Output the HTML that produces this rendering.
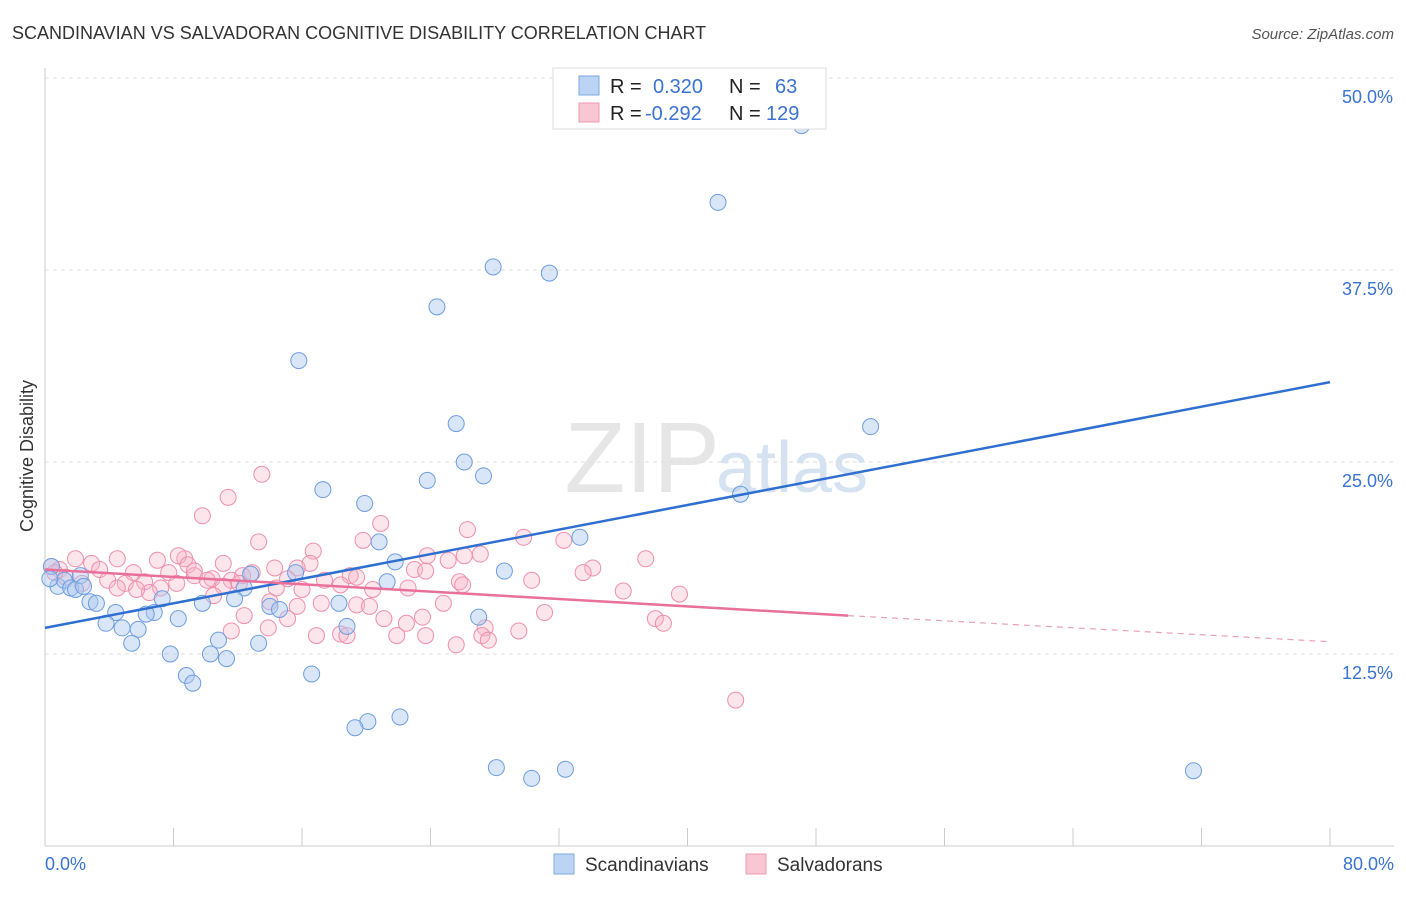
<!DOCTYPE html>
<html><head><meta charset="utf-8"><style>
body{margin:0;background:#fff;font-family:"Liberation Sans",sans-serif;}
svg text{font-family:"Liberation Sans",sans-serif;}
</style></head><body>
<svg id="chart" width="1406" height="892">
<text x="12" y="39" font-size="18" fill="#333">SCANDINAVIAN VS SALVADORAN COGNITIVE DISABILITY CORRELATION CHART</text>
<text x="1394" y="39" font-size="15" fill="#555" font-style="italic" text-anchor="end">Source: ZipAtlas.com</text>
<text x="33" y="456" font-size="18" fill="#333" text-anchor="middle" transform="rotate(-90 33 456)">Cognitive Disability</text>
<text x="720" y="492" font-size="100" fill="#e6e6e6" text-anchor="end" font-family="Liberation Serif">ZIP</text>
<text x="716" y="492" font-size="72" fill="#d5e2f2">atlas</text>
<g id="grid"></g><g id="pts"></g><g id="lines"></g>
<g>
<rect x="553" y="68" width="273" height="61" fill="#fff" stroke="#ddd"/>
<rect x="579" y="76" width="20" height="19" fill="#bcd4f4" stroke="#7da7e0"/>
<rect x="579" y="103" width="20" height="19" fill="#f9c6d4" stroke="#ef9ab2"/>
<text x="610" y="93" font-size="20" fill="#222">R =</text><text x="653" y="93" font-size="20" fill="#3a73d0">0.320</text>
<text x="729" y="93" font-size="20" fill="#222">N =</text><text x="775" y="93" font-size="20" fill="#3a73d0">63</text>
<text x="610" y="120" font-size="20" fill="#222">R =</text><text x="645" y="120" font-size="20" fill="#3a73d0">-0.292</text>
<text x="729" y="120" font-size="20" fill="#222">N =</text><text x="766" y="120" font-size="20" fill="#3a73d0">129</text>
</g>
<g>
<rect x="554" y="854" width="20" height="20" fill="#bcd4f4" stroke="#7da7e0"/>
<text x="585" y="871" font-size="19" fill="#333">Scandinavians</text>
<rect x="746" y="854" width="20" height="20" fill="#f9c6d4" stroke="#ef9ab2"/>
<text x="777" y="871" font-size="19" fill="#333">Salvadorans</text>
</g>
</svg>
<script>
const yTicks=[12.5,25.0,37.5,50.0];
const blueX=[47.1,41.9,27.9,31.4,24.4,15.8,51.4,25.6,26.1,27.3,23.8,17.3,19.9,43.3,20.8,33.3,21.8,28.6,21.3,15.6,12.8,12.4,11.8,7.3,9.8,14.0,14.6,18.3,6.8,6.3,4.4,2.8,3.2,8.3,27.0,3.8,4.8,5.8,18.8,5.4,10.8,13.3,7.8,10.3,11.3,8.8,9.2,16.6,22.1,20.1,19.3,28.1,32.4,30.3,71.5,0.4,0.8,1.2,1.6,1.9,0.3,2.2,2.4];
const blueY=[46.9,41.9,37.7,37.3,35.1,31.6,27.3,27.5,25.0,24.1,23.8,23.2,22.3,22.9,19.8,20.1,18.5,17.9,17.2,17.8,17.7,16.8,16.1,16.1,15.8,15.6,15.4,15.8,15.2,15.1,15.2,15.9,15.8,14.8,14.9,14.5,14.2,14.1,14.3,13.2,13.4,13.2,12.5,12.5,12.2,11.1,10.6,11.2,8.4,8.1,7.7,5.1,5.0,4.4,4.9,18.2,16.9,17.3,16.8,16.7,17.4,17.6,16.9];
const pinkX=[13.5,11.4,9.8,20.9,26.3,29.8,32.3,19.8,13.3,16.7,37.4,27.1,26.1,23.8,25.1,34.1,33.5,16.5,15.7,14.3,12.9,11.1,8.7,8.3,8.9,7.0,4.5,1.9,2.9,0.4,0.9,3.4,5.5,7.7,9.3,10.4,11.6,12.3,15.1,17.4,19.0,19.4,23.0,23.7,25.8,30.3,3.9,5.0,6.2,2.3,1.3,7.2,6.5,8.2,10.1,11.1,12.1,14.4,16.0,18.4,20.4,22.6,26.0,36.0,39.5,10.5,14.0,15.7,17.2,19.4,20.2,24.8,31.1,12.4,15.1,21.1,22.5,23.5,38.0,38.5,11.6,13.9,16.9,18.4,18.8,21.9,23.7,27.4,27.2,29.5,27.6,25.6,43.0,4.5,5.7,0.6,9.3];
const pinkY=[24.2,22.7,21.5,21.0,20.6,20.1,19.9,19.9,19.8,19.2,18.7,19.0,18.9,18.9,18.6,18.1,17.8,18.4,18.1,18.1,17.8,18.4,18.7,18.9,18.3,18.6,18.7,18.7,18.4,18.2,18.0,18.0,17.8,17.8,17.6,17.4,17.3,17.6,17.4,17.3,17.6,17.5,18.0,17.9,17.2,17.3,17.3,17.1,17.2,17.1,17.5,16.8,16.5,17.1,17.3,16.9,17.1,16.8,16.7,17.0,16.7,16.8,17.0,16.6,16.4,16.3,15.9,15.6,15.8,15.7,15.6,15.8,15.2,15.0,14.8,14.8,14.5,14.9,14.8,14.5,14.0,14.2,13.7,13.8,13.7,13.7,13.7,14.2,13.7,14.0,13.4,13.1,9.5,16.8,16.7,17.8,17.9];
const blueLine=[[0,14.2],[80,30.2]];
const pinkLine=[[0,18.0],[50,15.0],[80,13.3]];
const NS="http://www.w3.org/2000/svg";
const xs=v=>45+v/80*1285, ys=v=>846-v/50*768;
function mk(t,a,p){const e=document.createElementNS(NS,t);for(const k in a)e.setAttribute(k,a[k]);p.appendChild(e);return e;}
const g=document.getElementById('grid');
for(const t of yTicks){
 const l=mk('line',{x1:45,x2:1394,y1:ys(t),y2:ys(t),stroke:'#ddd','stroke-dasharray':'4,4'},g);
 
 
 const tx=mk('text',{x:1393,y:ys(t)+25,'font-size':18,fill:'#3a73d0','text-anchor':'end'},g);
 tx.textContent=t.toFixed(1)+'%';
 
 
}
mk('line',{x1:45,x2:45,y1:68,y2:846,stroke:'#ccc'},g);
mk('line',{x1:45,x2:1394,y1:846,y2:846,stroke:'#ccc'},g);
for(let i=0;i<=10;i++){const x=xs(i*8);const l=mk('line',{x1:x,x2:x,y1:828,y2:846,stroke:'#ccc'},g);
 
 }
const x0=mk('text',{x:45,y:870,'font-size':18,fill:'#3a73d0'},g);x0.textContent='0.0%';


const x1=mk('text',{x:1394,y:870,'font-size':18,fill:'#3a73d0','text-anchor':'end'},g);x1.textContent='80.0%';


const p=document.getElementById('pts');
pinkX.forEach((v,i)=>{const c=mk('circle',{cx:xs(v),cy:ys(pinkY[i]),r:8,fill:'rgba(248,180,200,0.35)',stroke:'#ee8fad','stroke-width':1},p);
 
 });
blueX.forEach((v,i)=>{const c=mk('circle',{cx:xs(v),cy:ys(blueY[i]),r:8,fill:'rgba(170,200,240,0.45)',stroke:'#6d9de0','stroke-width':1},p);
 
 });
const L=document.getElementById('lines');
const b=mk('line',{x1:xs(blueLine[0][0]),y1:ys(blueLine[0][1]),x2:xs(blueLine[1][0]),y2:ys(blueLine[1][1]),stroke:'#2f6fd0','stroke-width':2.5},L);


const pl=mk('line',{x1:xs(pinkLine[0][0]),y1:ys(pinkLine[0][1]),x2:xs(pinkLine[1][0]),y2:ys(pinkLine[1][1]),stroke:'#e8709a','stroke-width':2.5},L);


const pd=mk('line',{x1:xs(pinkLine[1][0]),y1:ys(pinkLine[1][1]),x2:xs(pinkLine[2][0]),y2:ys(pinkLine[2][1]),stroke:'#e8a0b8','stroke-width':1.2,'stroke-dasharray':'6,5'},L);


</script>
</body></html>
